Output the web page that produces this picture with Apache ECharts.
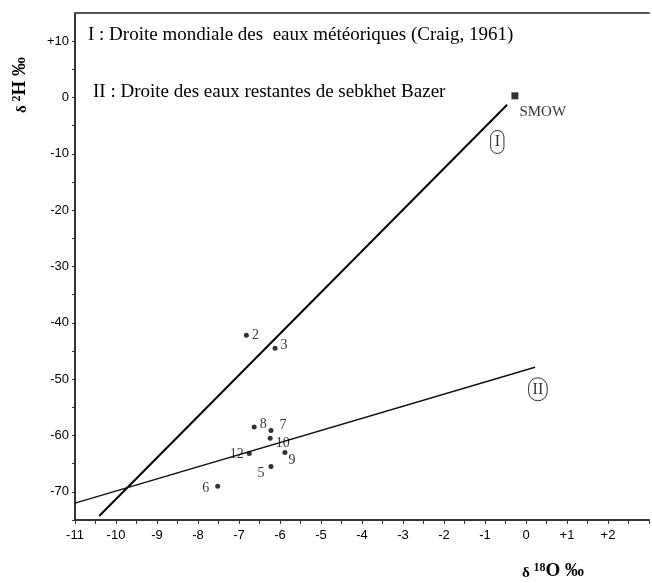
<!DOCTYPE html>
<html>
<head>
<meta charset="utf-8">
<script src="https://cdn.jsdelivr.net/npm/echarts@6/dist/echarts.min.js"></script>
<style>html,body{margin:0;padding:0;background:#fff}#c{width:652px;height:583px}</style>
</head>
<body>
<div id="c"></div>
<script>
// Samples (sebkhet Bazer)
const sampleIds = ['2', '3', '8', '7', '10', '9', '12', '5', '6'];
const d18O = [-6.82, -6.12, -6.63, -6.22, -6.24, -5.88, -6.75, -6.22, -7.52];
const d2H = [-42.2, -44.5, -58.5, -59.1, -60.5, -63.0, -63.2, -65.5, -69.0];

// Reference standard
const smowX = [-0.27];
const smowY = [0.3];

// Line I (global meteoric water line) end points
const lineIX = [-10.41, -0.46];
const lineIY = [-74.3, -1.3];
// Line II (remaining waters of sebkhet Bazer) end points
const lineIIX = [-11, 0.22];
const lineIIY = [-72.0, -47.9];

// Line tags
const tagNames = ['I', 'II'];
const tagX = [-0.7, 0.29];
const tagY = [-7.9, -51.8];

// Axes
const xMin = -11, xMax = 3, xStep = 0.5;
const yMin = -75, yMax = 15, yStep = 5;

const legendTexts = [
  'I : Droite mondiale des  eaux météoriques (Craig, 1961)',
  'II : Droite des eaux restantes de sebkhet Bazer'
];

const chart = echarts.init(document.getElementById('c'), null, {renderer: 'canvas'});

const labelPlace = {
  '2': ['right', [0, 0]],
  '3': ['right', [0, -3]],
  '8': ['right', [0, -3]],
  '7': ['right', [3, -5]],
  '10': ['right', [0, 5]],
  '9': ['right', [-2, 8]],
  '12': ['left', [0, 1]],
  '5': ['left', [-1, 7]],
  '6': ['left', [-3, 2]]
};

const serif = '"Liberation Serif", "Times New Roman", serif';
const sans = '"Liberation Sans", Arial, sans-serif';

const pts = sampleIds.map((id, i) => ({
  value: [d18O[i], d2H[i]],
  label: {position: labelPlace[id][0], offset: labelPlace[id][1], formatter: id}
}));

function pair(xs, ys) { return xs.map((x, i) => [x, ys[i]]); }

const axisTxt = {color: '#000', fontFamily: sans, fontSize: 13};

const nameRich = {
  d: {fontFamily: serif, fontSize: 15, fontWeight: 'bold', fill: '#000', verticalAlign: 'bottom'},
  s: {fontFamily: serif, fontSize: 12, fontWeight: 'bold', fill: '#000', verticalAlign: 'top', padding: [0, 0, 7, 0]},
  b: {fontFamily: serif, fontSize: 19, fontWeight: 'bold', fill: '#000', verticalAlign: 'bottom'}
};

const option = {
  animation: false,
  backgroundColor: '#fff',
  title: [
    {text: legendTexts[0], left: 83, top: 21, textStyle: {fontFamily: serif, fontSize: 19, fontWeight: 'normal', color: '#000'}},
    {text: legendTexts[1], left: 88, top: 78, textStyle: {fontFamily: serif, fontSize: 19, fontWeight: 'normal', color: '#000'}}
  ],
  graphic: [
    {
      type: 'text', x: 11, y: 113, rotation: Math.PI / 2,
      style: {text: '{d|δ }{s|2}{b|H ‰}', rich: nameRich}
    },
    {
      type: 'text', x: 522, y: 562,
      style: {text: '{d|δ }{s|18}{b|O ‰}', rich: nameRich}
    }
  ],
  grid: {left: 75, right: -3, top: 13, bottom: 63, containLabel: false},
  xAxis: [
    {
      type: 'value', min: xMin, max: xMax, interval: xStep,
      axisLine: {show: true, onZero: false, lineStyle: {color: '#333', width: 2}},
      axisTick: {show: true, inside: false, length: 4, lineStyle: {color: '#333', width: 1}},
      splitLine: {show: false},
      axisLabel: Object.assign({}, axisTxt, {
        margin: 9, interval: 0, showMaxLabel: true, showMinLabel: true,
        formatter: v => (Math.abs(v - Math.round(v)) > 1e-6 || v >= 3) ? '' : (v > 0 ? '+' + v : String(v))
      })
    },
    {
      type: 'value', position: 'top', min: xMin, max: xMax,
      axisLine: {show: true, onZero: false, lineStyle: {color: '#555', width: 2}},
      axisTick: {show: false}, axisLabel: {show: false}, splitLine: {show: false}
    }
  ],
  yAxis: {
    type: 'value', min: yMin, max: yMax, interval: yStep,
    axisLine: {show: true, onZero: false, lineStyle: {color: '#333', width: 2}},
    axisTick: {show: true, inside: false, length: 3, lineStyle: {color: '#333', width: 1}},
    splitLine: {show: false},
    axisLabel: Object.assign({}, axisTxt, {
      margin: 6, showMaxLabel: false,
      formatter: v => (v % 10 !== 0) ? '' : (v > 0 ? '+' + v : String(v))
    })
  },
  series: [
    {
      type: 'line', data: pair(lineIX, lineIY), showSymbol: false, symbol: 'none',
      lineStyle: {color: '#000', width: 2}, silent: true, z: 2
    },
    {
      type: 'line', data: pair(lineIIX, lineIIY), showSymbol: false, symbol: 'none',
      lineStyle: {color: '#111', width: 1.5}, silent: true, z: 2
    },
    {
      type: 'scatter', data: pts, symbol: 'circle', symbolSize: 5,
      itemStyle: {color: '#000'},
      label: {show: true, color: '#000', fontFamily: serif, fontSize: 14, distance: 3},
      z: 3
    },
    {
      type: 'scatter', data: pair(smowX, smowY), symbol: 'rect', symbolSize: 7,
      itemStyle: {color: '#000'},
      label: {show: true, formatter: 'SMOW', position: 'right', offset: [0, 16], distance: 1,
        color: '#000', fontFamily: serif, fontSize: 15},
      z: 3
    },
    {
      type: 'scatter', data: tagNames.map((n, i) => ({value: [tagX[i], tagY[i]], name: n})),
      symbol: 'circle', symbolSize: 1, itemStyle: {color: 'rgba(0,0,0,0)'},
      label: {show: true, position: 'inside', formatter: p => p.name, color: '#000',
        fontFamily: serif, fontSize: 16, borderColor: '#000', borderWidth: 1,
        borderRadius: 12, padding: [4, 4, 3, 4]},
      z: 3
    }
  ]
};
chart.setOption(option);
</script>
</body>
</html>
